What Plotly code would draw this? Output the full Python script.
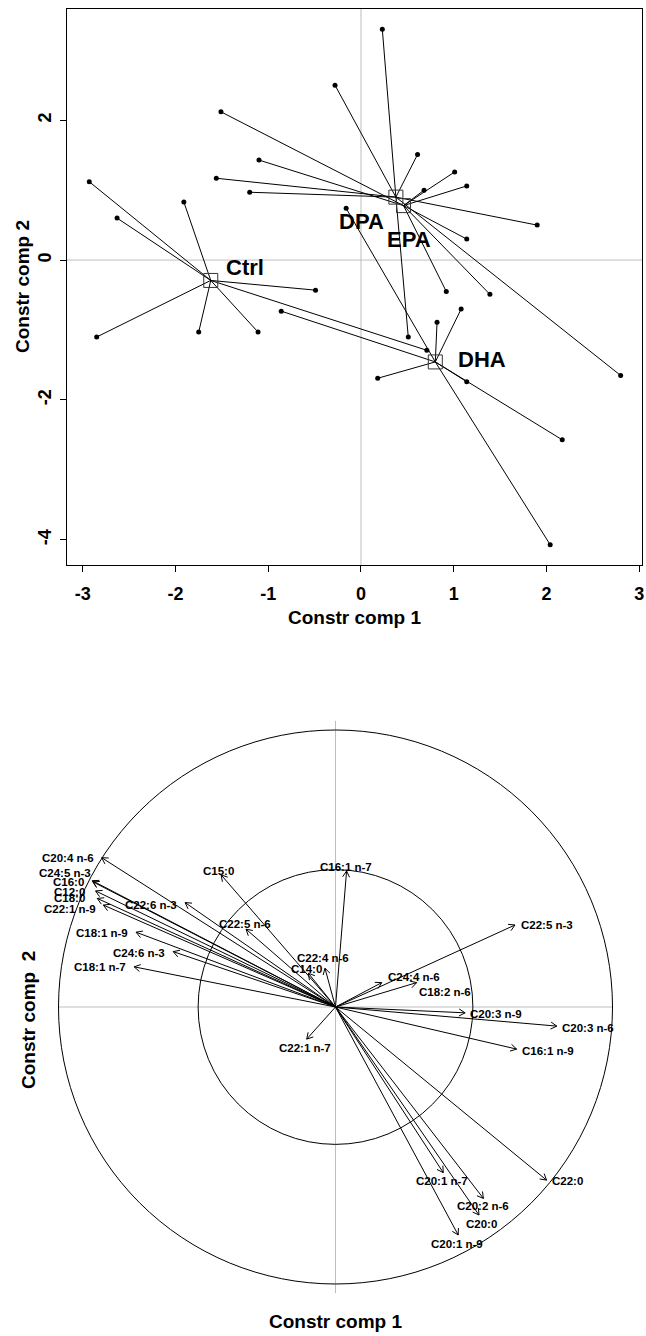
import numpy as np
import plotly.graph_objects as go

W, H = 646, 1336

# ---------------- top panel: site scores by group ----------------
ctrl_x = [-2.93, -2.63, -1.91, -0.49, -2.85, -1.75, -1.11, 0.71]
ctrl_y = [1.12, 0.60, 0.83, -0.43, -1.10, -1.03, -1.03, -1.29]
dpa_x = [0.23, -0.28, 0.61, 1.90, 0.51, 2.80, -1.56, -1.20]
dpa_y = [3.30, 2.50, 1.51, 0.50, -1.10, -1.65, 1.17, 0.97]
epa_x = [1.01, 0.68, 1.14, 1.14, 0.92, 1.39, -1.51, -1.10]
epa_y = [1.26, 1.00, 1.06, 0.30, -0.45, -0.49, 2.12, 1.43]
dha_x = [-0.86, -0.16, 0.82, 1.08, 0.18, 1.14, 2.17, 2.04]
dha_y = [-0.73, 0.74, -0.89, -0.70, -1.69, -1.74, -2.57, -4.07]
group_names = ["Ctrl", "DPA", "EPA", "DHA"]
x_ticks = [-3, -2, -1, 0, 1, 2, 3]
y_ticks = [-4, -2, 0, 2]

# ---------------- bottom panel: fatty acid correlations ----------------
fa_names = ["C20:4 n-6", "C24:5 n-3", "C16:0", "C12:0", "C18:0", "C22:1 n-9",
            "C22:6 n-3", "C15:0", "C22:5 n-6", "C18:1 n-9", "C24:6 n-3", "C18:1 n-7",
            "C22:4 n-6", "C14:0", "C16:1 n-7", "C22:5 n-3", "C24:4 n-6", "C18:2 n-6",
            "C20:3 n-9", "C20:3 n-6", "C16:1 n-9", "C22:1 n-7", "C20:1 n-7", "C20:2 n-6",
            "C20:0", "C20:1 n-9", "C22:0"]
fa_x = [-0.844, -0.878, -0.876, -0.866, -0.860, -0.838,
        -0.543, -0.413, -0.323, -0.720, -0.586, -0.727,
        -0.038, -0.098, 0.040, 0.648, 0.167, 0.293,
        0.468, 0.799, 0.654, -0.104, 0.389, 0.534,
        0.518, 0.443, 0.762]
fa_y = [0.539, 0.456, 0.452, 0.419, 0.392, 0.368,
        0.377, 0.477, 0.281, 0.270, 0.200, 0.145,
        0.140, 0.122, 0.491, 0.296, 0.088, 0.088,
        -0.021, -0.069, -0.152, -0.116, -0.598, -0.691,
        -0.751, -0.823, -0.625]

# ---------------- styling tables (not data) ----------------
FONT = "Liberation Sans, Arial, sans-serif"
R_PX = 277.0          # pixels per unit in the correlation circle
CX, CY = 335.5, 1007  # circle centre in pixels
# label placement relative to arrow tip: (xanchor, dx px, dy px downwards)
label_place = {
    "C20:4 n-6": ("right", -5.5, 0), "C24:5 n-3": ("right", 1, -7.5),
    "C16:0": ("right", -7, 0), "C12:0": ("right", -9, 0.7),
    "C18:0": ("right", -10.6, 0), "C22:1 n-9": ("right", -5.5, 4),
    "C22:6 n-3": ("right", -6.5, 2.3), "C18:1 n-9": ("right", -6, 1),
    "C24:6 n-3": ("right", -6.5, 1), "C18:1 n-7": ("right", -6.3, 0),
    "C15:0": ("center", -3, -4.3), "C22:5 n-6": ("center", -1, -5.3),
    "C22:4 n-6": ("center", -2, -10), "C14:0": ("center", -2, -4),
    "C16:1 n-7": ("center", -1, -4.3),
    "C22:5 n-3": ("left", 3.5, 0), "C24:4 n-6": ("left", 4.3, -5.4),
    "C18:2 n-6": ("left", 0.6, 9), "C20:3 n-9": ("left", 3.3, 1.3),
    "C20:3 n-6": ("left", 3.3, 1.7), "C16:1 n-9": ("left", 3.3, 2),
    "C22:0": ("left", 3.3, 1),
    "C22:1 n-7": ("center", -1.2, 8.7), "C20:1 n-7": ("center", -0.8, 8.3),
    "C20:2 n-6": ("center", -0.8, 7.7), "C20:0": ("center", 2.7, 9),
    "C20:1 n-9": ("center", -0.8, 9.3),
}
group_label_shift = {"Ctrl": (34.5, -13), "DPA": (-34, 24), "EPA": (5, 34), "DHA": (46.5, -2.7)}


def px_x(p):
    return p / W


def px_y(p):
    return 1 - p / H


fig = go.Figure()

# ---- top panel ----
groups = {
    "Ctrl": (ctrl_x, ctrl_y),
    "DPA": (dpa_x, dpa_y),
    "EPA": (epa_x, epa_y),
    "DHA": (dha_x, dha_y),
}
cent = {}
for g in group_names:
    gx, gy = groups[g]
    cx, cy = float(np.mean(gx)), float(np.mean(gy))
    cent[g] = (cx, cy)
    lx, ly = [], []
    for a, b in zip(gx, gy):
        lx += [cx, a, None]
        ly += [cy, b, None]
    fig.add_trace(go.Scatter(x=lx, y=ly, mode="lines", line=dict(color="black", width=1),
                             xaxis="x", yaxis="y", hoverinfo="skip"))
for g in group_names:
    gx, gy = groups[g]
    fig.add_trace(go.Scatter(x=gx, y=gy, mode="markers",
                             marker=dict(color="black", size=5), xaxis="x", yaxis="y"))
fig.add_trace(go.Scatter(x=[cent[g][0] for g in group_names], y=[cent[g][1] for g in group_names],
                         mode="markers",
                         marker=dict(symbol="square-open", size=14, color="#333333",
                                     line=dict(width=1)), xaxis="x", yaxis="y"))

annotations = []
for g in group_names:
    dx, dy = group_label_shift[g]
    annotations.append(dict(x=cent[g][0], y=cent[g][1], xref="x", yref="y", text=g,
                            showarrow=False, xshift=dx, yshift=-dy,
                            font=dict(family=FONT, size=22, color="black", weight="bold")))

shapes = [
    dict(type="line", xref="x", yref="y domain", x0=0, x1=0, y0=0, y1=1,
         line=dict(color="#BEBEBE", width=1), layer="below"),
    dict(type="line", xref="x domain", yref="y", x0=0, x1=1, y0=0, y1=0,
         line=dict(color="#BEBEBE", width=1), layer="below"),
]

# ---- bottom panel ----
shapes += [
    dict(type="line", xref="x2", yref="y2", x0=0, x1=0, y0=-1.033, y1=1.033,
         line=dict(color="#BEBEBE", width=1), layer="below"),
    dict(type="line", xref="x2", yref="y2", x0=-1.0, x1=1.0, y0=0, y1=0,
         line=dict(color="#BEBEBE", width=1), layer="below"),
    dict(type="circle", xref="x2", yref="y2", x0=-1, x1=1, y0=-1, y1=1,
         line=dict(color="black", width=1)),
    dict(type="circle", xref="x2", yref="y2", x0=-0.496, x1=0.496, y0=-0.496, y1=0.496,
         line=dict(color="black", width=1)),
]

sx, sy, hx, hy = [], [], [], []
head_len = 7.0 / R_PX
for n, a, b in zip(fa_names, fa_x, fa_y):
    sx += [0, a, None]
    sy += [0, b, None]
    ang = np.arctan2(b, a)
    for d in (np.pi - np.pi / 6, np.pi + np.pi / 6):
        hx += [a, a + head_len * np.cos(ang + d), None]
        hy += [b, b + head_len * np.sin(ang + d), None]
fig.add_trace(go.Scatter(x=sx, y=sy, mode="lines", line=dict(color="black", width=1),
                         xaxis="x2", yaxis="y2", hoverinfo="skip"))
fig.add_trace(go.Scatter(x=hx, y=hy, mode="lines", line=dict(color="black", width=1),
                         xaxis="x2", yaxis="y2", hoverinfo="skip"))

for n, a, b in zip(fa_names, fa_x, fa_y):
    anchor, dx, dy = label_place[n]
    annotations.append(dict(x=a, y=b, xref="x2", yref="y2", text=n, showarrow=False,
                            xanchor=anchor, yanchor="middle", xshift=dx, yshift=-dy,
                            font=dict(family=FONT, size=11.5, color="black", weight="bold")))

# axis titles
title_font = dict(family=FONT, size=19, color="black", weight="bold")
annotations += [
    dict(x=px_x(354.5), y=px_y(618), xref="paper", yref="paper", text="Constr comp 1",
         showarrow=False, font=title_font, xanchor="center", yanchor="middle"),
    dict(x=px_x(23), y=px_y(287), xref="paper", yref="paper", text="Constr comp 2",
         showarrow=False, font=title_font, textangle=-90, xanchor="center", yanchor="middle"),
    dict(x=px_x(335.5), y=px_y(1321), xref="paper", yref="paper", text="Constr comp 1",
         showarrow=False, font=title_font, xanchor="center", yanchor="middle"),
    dict(x=px_x(28), y=px_y(1020), xref="paper", yref="paper", text="Constr comp\u00a0\u00a02",
         showarrow=False, font=title_font, textangle=-90, xanchor="center", yanchor="middle"),
]

tick_font = dict(family=FONT, size=18, color="black", weight="bold")
x2_range = [-CX / R_PX, (W - CX) / R_PX]
y2_top_px = 690
y2_range = [-(H - CY) / R_PX, (CY - y2_top_px) / R_PX]

fig.update_layout(
    width=W, height=H, margin=dict(l=0, r=0, t=0, b=0, autoexpand=False),
    paper_bgcolor="white", plot_bgcolor="white", showlegend=False,
    xaxis=dict(domain=[px_x(67), px_x(642)], range=[-3.17, 3.03], tickvals=x_ticks,
               ticktext=[str(v) for v in x_ticks],
               ticks="outside", ticklen=6, tickwidth=1, tickcolor="black",
               showline=True, linecolor="black", linewidth=1, mirror=True,
               showgrid=False, zeroline=False, tickfont=tick_font, anchor="y",
               ticklabelstandoff=6, automargin=False),
    yaxis=dict(domain=[px_y(565), px_y(9)], range=[-4.36, 3.59], tickvals=y_ticks,
               ticktext=[str(v) for v in y_ticks],
               ticks="outside", ticklen=6, tickwidth=1, tickcolor="black",
               showline=True, linecolor="black", linewidth=1, mirror=True,
               showgrid=False, zeroline=False, tickfont=tick_font, tickangle=-90,
               anchor="x", ticklabelstandoff=2, automargin=False),
    xaxis2=dict(domain=[0, 1], range=x2_range, visible=False, anchor="y2"),
    yaxis2=dict(domain=[0, px_y(y2_top_px)], range=y2_range, visible=False, anchor="x2"),
    shapes=shapes, annotations=annotations,
)

fig.write_html("out.html", config={"displayModeBar": False},
               post_script="document.body.style.margin='0px';")
